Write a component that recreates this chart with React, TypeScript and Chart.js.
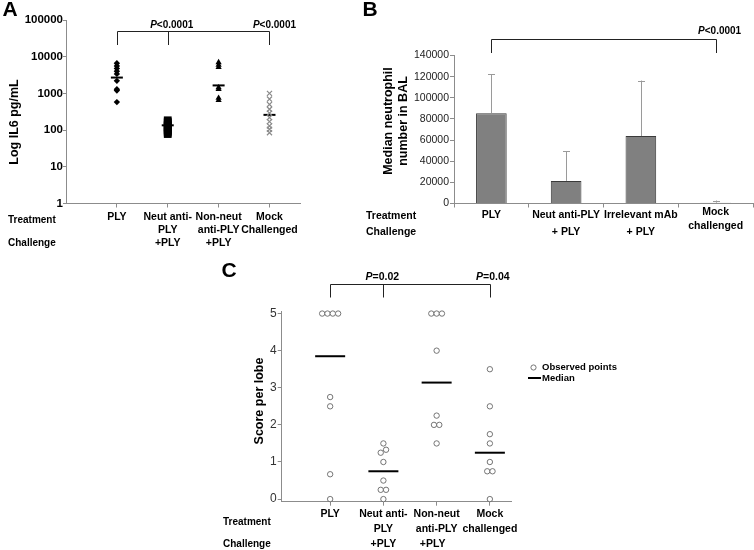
import React, { useEffect, useRef } from "react";
import { Chart, registerables } from "chart.js";

Chart.register(...registerables);

const W = 754;
const H = 550;
const FONT = '"Liberation Sans", Arial, Helvetica, sans-serif';

// ---------- Panel A data ----------
const aTreatment = [["PLY"], ["Neut anti-", "PLY"], ["Non-neut", "anti-PLY"], ["Mock", "Challenged"]];
const aChallenge = ["", "+PLY", "+PLY", ""];
const aPLY = [6600, 5600, 4800, 4000, 3400, 2200, 1300, 1200, 580];
const aNeut = [185, 170, 155, 140, 130, 120, 110, 100, 92, 85, 78];
const aNonNeut = [7000, 6000, 5200, 1450, 1300, 750, 650];
const aMock = [1000, 700, 500, 370, 290, 220, 170, 130, 105, 85];
const aMedians = [2700, 135, 1650, 260];
const aYTicks = [1, 10, 100, 1000, 10000, 100000];
const aPValues = ["<0.0001", "<0.0001"];

// ---------- Panel B data ----------
const bTreatment = [["PLY"], ["Neut anti-PLY"], ["Irrelevant mAb"], ["Mock", "challenged"]];
const bChallenge = ["", "+ PLY", "+ PLY", ""];
const bMedians = [85400, 21400, 63800, 800];
const bUpper = [122400, 49600, 116300, 2800];
const bYTicks = [0, 20000, 40000, 60000, 80000, 100000, 120000, 140000];
const bPValue = "<0.0001";

// ---------- Panel C data ----------
const cTreatment = [["PLY"], ["Neut anti-", "PLY"], ["Non-neut", "anti-PLY"], ["Mock", "challenged"]];
const cChallenge = ["", "+PLY", "+PLY", ""];
const cPLY = [5, 5, 5, 5, 2.75, 2.5, 0.67, 0];
const cNeut = [1.5, 1.33, 1.25, 1, 0.5, 0.25, 0.25, 0];
const cNonNeut = [5, 5, 5, 4, 2.25, 2, 2, 1.5];
const cMock = [3.5, 2.5, 1.75, 1.5, 1, 0.75, 0.75, 0];
const cMedians = [3.85, 0.75, 3.14, 1.25];
const cYTicks = [0, 1, 2, 3, 4, 5];
const cPValues = ["=0.02", "=0.04"];

// ---------- helpers ----------
function frame(left: number, top: number, right: number, bottom: number, yW: number, xH: number) {
  return { padding: { left: left - yW, top, right: W - right, bottom: H - bottom - xH } };
}

function drawText(ctx: CanvasRenderingContext2D, s: string, x: number, y: number, size: number,
  weight = "bold", align: CanvasTextAlign = "center", color = "#000", rotate = 0) {
  ctx.save();
  ctx.font = `${weight} ${size}px ${FONT}`;
  ctx.fillStyle = color;
  ctx.textAlign = align;
  ctx.textBaseline = "middle";
  ctx.translate(x, y);
  if (rotate) ctx.rotate(rotate);
  ctx.fillText(s, 0, 0);
  ctx.restore();
}

function drawP(ctx: CanvasRenderingContext2D, rest: string, cx: number, y: number, size: number) {
  ctx.save();
  const f1 = `italic bold ${size}px ${FONT}`;
  const f2 = `bold ${size}px ${FONT}`;
  ctx.font = f1;
  const w1 = ctx.measureText("P").width;
  ctx.font = f2;
  const w2 = ctx.measureText(rest).width;
  const x0 = cx - (w1 + w2) / 2;
  ctx.textBaseline = "middle";
  ctx.textAlign = "left";
  ctx.fillStyle = "#000";
  ctx.font = f1;
  ctx.fillText("P", x0, y);
  ctx.font = f2;
  ctx.fillText(rest, x0 + w1, y);
  ctx.restore();
}

function drawBracket(ctx: CanvasRenderingContext2D, xs: number[], top: number, bottom: number) {
  ctx.save();
  ctx.strokeStyle = "#222";
  ctx.lineWidth = 1;
  ctx.beginPath();
  const px = xs.map((x) => Math.round(x) + 0.5);
  const t = Math.round(top) + 0.5;
  ctx.moveTo(px[0], t);
  ctx.lineTo(px[px.length - 1], t);
  px.forEach((x) => {
    ctx.moveTo(x, t);
    ctx.lineTo(x, bottom);
  });
  ctx.stroke();
  ctx.restore();
}

// spread points that share (nearly) the same value horizontally
function spread(values: number[], cat: number, step: number, tol: number) {
  const idx = values.map((v, i) => ({ v, i })).sort((a, b) => a.v - b.v);
  const out: { x: number; y: number }[] = new Array(values.length);
  let k = 0;
  while (k < idx.length) {
    let j = k;
    while (j + 1 < idx.length && idx[j + 1].v - idx[j].v < tol) j++;
    const n = j - k + 1;
    for (let m = k; m <= j; m++) {
      out[idx[m].i] = { x: cat + (m - k - (n - 1) / 2) * step, y: idx[m].v };
    }
    k = j + 1;
  }
  return out;
}

const AXIS = "#8c8c8c";

function axisGrid(len: number) {
  return { display: true, drawOnChartArea: false, drawTicks: true, tickLength: len, color: AXIS, lineWidth: 1 };
}

// ---------- Panel A ----------
function configA(): any {
  const plugin = {
    id: "panelA",
    afterDraw(chart: any) {
      const ctx = chart.ctx as CanvasRenderingContext2D;
      const xs = chart.scales.x;
      const px = (i: number) => xs.getPixelForValue(i + 1);
      drawText(ctx, "A", 10, 10, 21);
      drawText(ctx, "Log IL6 pg/mL", 15, 122, 12.5, "bold", "center", "#000", -Math.PI / 2);
      drawText(ctx, "Treatment", 8, 220, 10, "bold", "left");
      drawText(ctx, "Challenge", 8, 243.5, 10, "bold", "left");
      aTreatment.forEach((lines, i) => {
        lines.forEach((s, k) => drawText(ctx, s, px(i), 217.5 + k * 12.8, 10.5));
        if (aChallenge[i]) drawText(ctx, aChallenge[i], px(i), 243.5, 10.5);
      });
      drawBracket(ctx, [px(0), px(1), px(3)], 31, 45);
      drawP(ctx, aPValues[0], px(1) + 4, 25, 10);
      drawP(ctx, aPValues[1], px(3) + 5, 25, 10);
    },
  };
  return {
    type: "scatter",
    data: {
      datasets: [
        { data: aPLY.map((v) => ({ x: 1, y: v })), pointStyle: "rectRot", radius: 3.2, backgroundColor: "#000", borderColor: "#000", borderWidth: 0, clip: false },
        { data: aNeut.map((v) => ({ x: 2, y: v })), pointStyle: "rect", radius: 5.5, backgroundColor: "#000", borderColor: "#000", borderWidth: 0, clip: false },
        { data: aNonNeut.map((v) => ({ x: 3, y: v })), pointStyle: "triangle", radius: 3.6, backgroundColor: "#000", borderColor: "#000", borderWidth: 0, clip: false },
        { data: aMock.map((v) => ({ x: 4, y: v })), pointStyle: "crossRot", radius: 3.6, backgroundColor: "#888", borderColor: "#8a8a8a", borderWidth: 1.2, clip: false },
        { data: aMedians.map((v, i) => ({ x: i + 1, y: v })), pointStyle: "line", radius: 6, borderColor: "#000", borderWidth: 2, clip: false },
      ],
    },
    options: {
      animation: false,
      responsive: false,
      events: [],
      layout: frame(66, 20, 300, 203.5, 66, 20),
      plugins: { legend: { display: false }, tooltip: { enabled: false } },
      scales: {
        x: {
          type: "linear", min: 0, max: 4.6,
          afterBuildTicks: (s: any) => { s.ticks = [1, 2, 3, 4].map((v) => ({ value: v })); },
          afterFit: (s: any) => { s.height = 20; },
          ticks: { display: false },
          grid: axisGrid(4),
          border: { display: true, color: AXIS, width: 1 },
        },
        y: {
          type: "logarithmic", min: 1, max: 100000,
          afterBuildTicks: (s: any) => { s.ticks = aYTicks.map((v) => ({ value: v })); },
          afterFit: (s: any) => { s.width = 66; },
          ticks: { callback: (v: any) => String(v), font: { family: FONT, size: 11.5, weight: "bold" }, color: "#000", padding: 0 },
          grid: axisGrid(3),
          border: { display: true, color: AXIS, width: 1 },
        },
      },
    },
    plugins: [plugin],
  };
}

// ---------- Panel B ----------
function configB(): any {
  const plugin = {
    id: "panelB",
    afterDatasetsDraw(chart: any) {
      const ctx = chart.ctx as CanvasRenderingContext2D;
      const ys = chart.scales.y;
      const meta = chart.getDatasetMeta(0);
      ctx.save();
      ctx.strokeStyle = "#9a9a9a";
      ctx.lineWidth = 1;
      meta.data.forEach((bar: any, i: number) => {
        const x = Math.round(bar.x) + 0.5;
        const top = ys.getPixelForValue(bUpper[i]);
        ctx.beginPath();
        ctx.moveTo(x, bar.y);
        ctx.lineTo(x, top);
        ctx.moveTo(x - 3.5, Math.round(top) + 0.5);
        ctx.lineTo(x + 3.5, Math.round(top) + 0.5);
        ctx.stroke();
      });
      ctx.restore();
    },
    afterDraw(chart: any) {
      const ctx = chart.ctx as CanvasRenderingContext2D;
      const xs = chart.scales.x;
      const px = (i: number) => xs.getPixelForValue(i);
      drawText(ctx, "B", 370, 10, 21);
      drawText(ctx, "Median neutrophil", 388.5, 121, 12.5, "bold", "center", "#000", -Math.PI / 2);
      drawText(ctx, "number in BAL", 403.5, 121, 12.5, "bold", "center", "#000", -Math.PI / 2);
      drawText(ctx, "Treatment", 366, 216, 10.5, "bold", "left");
      drawText(ctx, "Challenge", 366, 232.5, 10.5, "bold", "left");
      bTreatment.forEach((lines, i) => {
        if (lines.length === 1) drawText(ctx, lines[0], px(i), 215, 10.5);
        else lines.forEach((s, k) => drawText(ctx, s, px(i), 212 + k * 14, 10.5));
        if (bChallenge[i]) drawText(ctx, bChallenge[i], px(i), 232.5, 10.5);
      });
      drawBracket(ctx, [px(0), px(3)], 39, 53);
      drawP(ctx, bPValue, px(3) + 4, 31.5, 10);
    },
  };
  return {
    type: "bar",
    data: {
      labels: bTreatment.map((l) => l.join(" ")),
      datasets: [
        { data: bMedians, backgroundColor: "#808080", borderColor: "#3a3a3a", borderWidth: 1, barPercentage: 0.41, categoryPercentage: 1 },
      ],
    },
    options: {
      animation: false,
      responsive: false,
      events: [],
      layout: frame(454, 55.5, 753, 203.5, 94, 20),
      plugins: { legend: { display: false }, tooltip: { enabled: false } },
      scales: {
        x: {
          afterFit: (s: any) => { s.height = 20; },
          ticks: { display: false },
          grid: { ...axisGrid(4), offset: true },
          border: { display: true, color: AXIS, width: 1 },
        },
        y: {
          min: 0, max: 140000,
          afterBuildTicks: (s: any) => { s.ticks = bYTicks.map((v) => ({ value: v })); },
          afterFit: (s: any) => { s.width = 94; },
          ticks: { callback: (v: any) => String(v), font: { family: FONT, size: 10.5 }, color: "#222", padding: 1 },
          grid: axisGrid(4),
          border: { display: true, color: AXIS, width: 1 },
        },
      },
    },
    plugins: [plugin],
  };
}

// ---------- Panel C ----------
function configC(): any {
  const plugin = {
    id: "panelC",
    afterDraw(chart: any) {
      const ctx = chart.ctx as CanvasRenderingContext2D;
      const xs = chart.scales.x;
      const px = (i: number) => xs.getPixelForValue(i + 1);
      drawText(ctx, "C", 229, 271, 21);
      drawText(ctx, "Score per lobe", 260, 401, 12.5, "bold", "center", "#000", -Math.PI / 2);
      drawText(ctx, "Treatment", 223, 522, 10, "bold", "left");
      drawText(ctx, "Challenge", 223, 544, 10, "bold", "left");
      cTreatment.forEach((lines, i) => {
        lines.forEach((s, k) => drawText(ctx, s, px(i), 514.5 + k * 14.8, 10.5));
        if (cChallenge[i]) drawText(ctx, cChallenge[i], px(i) - (i === 2 ? 4 : 0), 544, 10.5);
      });
      drawBracket(ctx, [px(0), px(1), px(3)], 283.5, 297.5);
      drawP(ctx, cPValues[0], px(1) - 1, 277.5, 10.5);
      drawP(ctx, cPValues[1], px(3) + 3, 277.5, 10.5);
      // legend
      ctx.save();
      ctx.strokeStyle = "#666";
      ctx.fillStyle = "#fff";
      ctx.lineWidth = 0.9;
      ctx.beginPath();
      ctx.arc(533.5, 367.5, 2.6, 0, Math.PI * 2);
      ctx.fill();
      ctx.stroke();
      ctx.strokeStyle = "#000";
      ctx.lineWidth = 2;
      ctx.beginPath();
      ctx.moveTo(528, 378);
      ctx.lineTo(541, 378);
      ctx.stroke();
      ctx.restore();
      drawText(ctx, "Observed points", 542, 367.5, 9.5, "bold", "left");
      drawText(ctx, "Median", 542, 378, 9.5, "bold", "left");
    },
  };
  const pts = (vals: number[], cat: number) => spread(vals, cat, 0.1, 0.12);
  const open = { pointStyle: "circle", radius: 2.7, backgroundColor: "#fff", borderColor: "#666", borderWidth: 0.9, clip: false };
  return {
    type: "scatter",
    data: {
      datasets: [
        { data: pts(cPLY, 1), ...open },
        { data: pts(cNeut, 2), ...open },
        { data: pts(cNonNeut, 3), ...open },
        { data: pts(cMock, 4), ...open },
        { data: cMedians.map((v, i) => ({ x: i + 1, y: v })), pointStyle: "line", radius: 15, borderColor: "#000", borderWidth: 2, clip: false },
      ],
    },
    options: {
      animation: false,
      responsive: false,
      events: [],
      layout: frame(281.7, 311.7, 511.7, 501.7, 71.7, 20),
      plugins: { legend: { display: false }, tooltip: { enabled: false } },
      scales: {
        x: {
          type: "linear", min: 0.09, max: 4.41,
          afterBuildTicks: (s: any) => { s.ticks = [1, 2, 3, 4].map((v) => ({ value: v })); },
          afterFit: (s: any) => { s.height = 20; },
          ticks: { display: false },
          grid: axisGrid(4),
          border: { display: true, color: AXIS, width: 1 },
        },
        y: {
          min: -0.07, max: 5.05,
          afterBuildTicks: (s: any) => { s.ticks = cYTicks.map((v) => ({ value: v })); },
          afterFit: (s: any) => { s.width = 71.7; },
          ticks: { callback: (v: any) => String(v), font: { family: FONT, size: 12 }, color: "#333", padding: 1 },
          grid: axisGrid(4),
          border: { display: true, color: AXIS, width: 1 },
        },
      },
    },
    plugins: [plugin],
  };
}

function ChartCanvas({ make }: { make: () => any }) {
  const ref = useRef<HTMLCanvasElement>(null);
  useEffect(() => {
    const chart = new Chart(ref.current as HTMLCanvasElement, make());
    return () => chart.destroy();
  }, []);
  return (
    <canvas
      ref={ref}
      width={W}
      height={H}
      style={{ position: "absolute", left: 0, top: 0, width: W, height: H }}
    />
  );
}

export default function App() {
  return (
    <div style={{ position: "absolute", left: 0, top: 0, width: W, height: H, background: "#fff", overflow: "hidden" }}>
      <ChartCanvas make={configA} />
      <ChartCanvas make={configB} />
      <ChartCanvas make={configC} />
    </div>
  );
}
